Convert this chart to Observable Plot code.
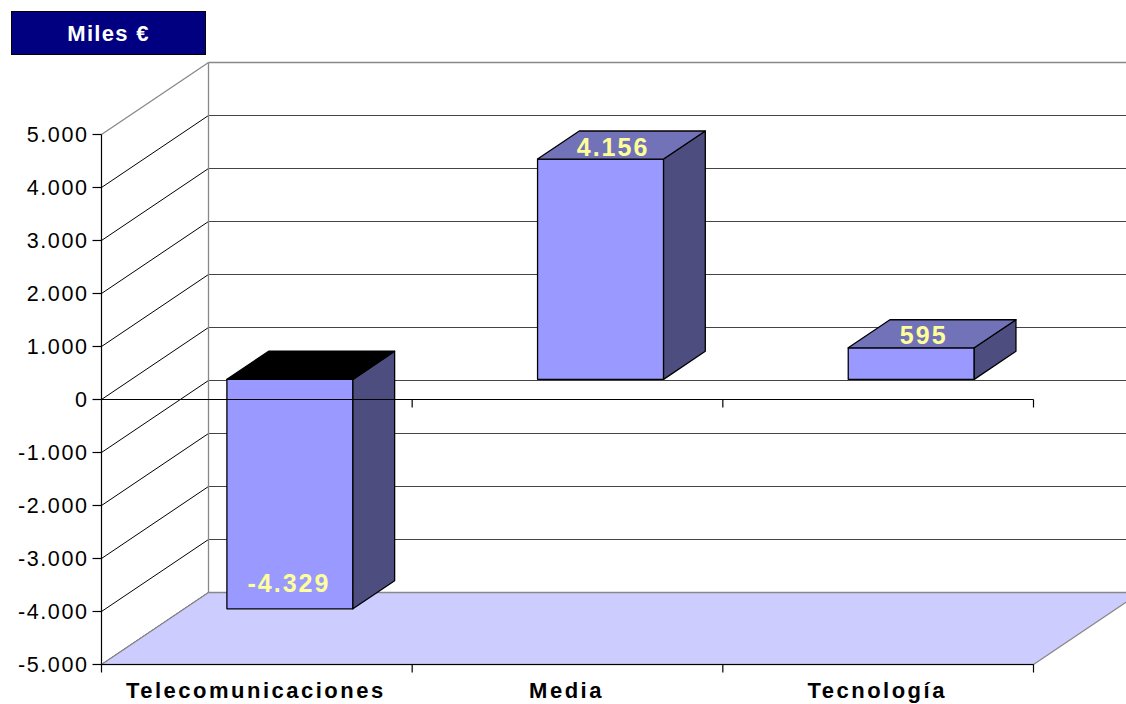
<!DOCTYPE html>
<html><head><meta charset="utf-8">
<script src="https://cdn.jsdelivr.net/npm/d3@7"></script>
<script src="https://cdn.jsdelivr.net/npm/@observablehq/plot@0.6"></script>
<style>
html,body{margin:0;padding:0;background:#fff;}
#wrap{position:relative;width:1126px;height:704px;overflow:hidden;}
#unit{position:absolute;left:11px;top:11px;width:193px;height:40px;padding-top:2px;box-sizing:content-box;background:#000080;border:1px solid #000;color:#fff;font:bold 22px "Liberation Sans",Arial,sans-serif;letter-spacing:1.3px;display:flex;align-items:center;justify-content:center;z-index:2;}
svg g[font-size="21.5"] text{letter-spacing:1.6px;}
svg g[font-size="22"] text{letter-spacing:2.5px;}
svg g[font-size="25"] text{letter-spacing:2px;}
</style>
</head><body>
<div id="wrap"><div id="unit"></div></div>
<script>
// ---- data ----
const categories = ["Telecomunicaciones", "Media", "Tecnología"];
const values = [-4329, 4156, 595];
const yTicks = [5000, 4000, 3000, 2000, 1000, 0, -1000, -2000, -3000, -4000, -5000];
const unitLabel = "Miles €";

// ---- layout ----
const W = 1126, H = 704, mL = 101, mR = 93, mT = 134, mB = 40;
const yMin = -5000, yMax = 5000, nCat = categories.length;
const pxPerX = (W - mL - mR) / nCat;
const pxPerY = (H - mT - mB) / (yMax - yMin);
const DX = 107 / pxPerX, DY = 72 / pxPerY;          // depth vector of the 3D box
const P = (x, y, f) => ({x: x + f * DX, y: y + f * DY});
const px2x = p => p / pxPerX, px2y = p => p / pxPerY;

const fmt = d3.formatLocale({decimal: ",", thousands: ".", grouping: [3], currency: ["", "€"], minus: "-"}).format(",");

const poly = (pts, fill, stroke, sw = 1) =>
  Plot.line(pts, {x: "x", y: "y", fill, stroke, strokeWidth: sw, curve: "linear-closed"});

const F1 = 0.28, F2 = 0.67, BC = 0.51, BHW = px2x(63);
const colFront = "#9999FF", colSide = "#4D4D80", colTopPos = "#7272B8", colTopNeg = "#000000";
const FONT = "Liberation Sans, Arial, sans-serif";

const bars = values.map((v, i) => {
  const x0 = i + BC - BHW, x1 = i + BC + BHW, lo = Math.min(0, v), hi = Math.max(0, v);
  return {
    v, i,
    front: [P(x0, lo, F1), P(x1, lo, F1), P(x1, hi, F1), P(x0, hi, F1)],
    side: [P(x1, lo, F1), P(x1, lo, F2), P(x1, hi, F2), P(x1, hi, F1)],
    top: [P(x0, hi, F1), P(x1, hi, F1), P(x1, hi, F2), P(x0, hi, F2)],
    topColor: v < 0 ? colTopNeg : colTopPos
  };
});

const innerTicks = yTicks.filter(t => t !== yMax);
const marks = [];
// back wall horizontal gridlines
marks.push(Plot.link(innerTicks, {x1: DX, y1: d => d + DY, x2: nCat + DX, y2: d => d + DY, stroke: "#444", strokeWidth: 1}));
marks.push(Plot.link([yMax], {x1: DX, y1: d => d + DY, x2: nCat + DX, y2: d => d + DY, stroke: "#888", strokeWidth: 1.3}));
// side wall diagonals
marks.push(Plot.link(innerTicks, {x1: 0, y1: d => d, x2: DX, y2: d => d + DY, stroke: "#000", strokeWidth: 1}));
marks.push(Plot.link([yMax], {x1: 0, y1: d => d, x2: DX, y2: d => d + DY, stroke: "#888", strokeWidth: 1.3}));
// back wall left edge
marks.push(Plot.link([0], {x1: DX, y1: yMin + DY, x2: DX, y2: yMax + DY, stroke: "#888", strokeWidth: 1.3}));
// floor
marks.push(poly([P(0, yMin, 0), P(nCat, yMin, 0), P(nCat, yMin, 1), P(0, yMin, 1)], "#CCCCFF", "#888", 1.3));
// front bottom edge and its ticks
marks.push(Plot.link([0], {x1: 0, y1: yMin, x2: nCat, y2: yMin, stroke: "#000", strokeWidth: 1.2}));
marks.push(Plot.link(d3.range(nCat + 1), {x1: d => d, x2: d => d, y1: yMin, y2: yMin - px2y(8), stroke: "#000", strokeWidth: 1.2}));
// y axis line and ticks
marks.push(Plot.link([0], {x1: 0, y1: yMin, x2: 0, y2: yMax, stroke: "#000", strokeWidth: 1.2}));
marks.push(Plot.link(yTicks, {x1: -px2x(9), x2: 0, y1: d => d, y2: d => d, stroke: "#000", strokeWidth: 1.2}));
marks.push(Plot.text(yTicks, {x: 0, y: d => d, text: d => fmt(d), textAnchor: "end", dx: -13, dy: 1, fontSize: 21.5, fill: "#000", fontFamily: FONT}));
// bars
for (const b of bars) {
  marks.push(poly(b.front, colFront, "#000", 1.3));
  marks.push(poly(b.side, colSide, "#000", 1.3));
  marks.push(poly(b.top, b.topColor, "#000", 1.3));
}
// front zero axis with ticks
marks.push(Plot.link([0], {x1: 0, y1: 0, x2: nCat, y2: 0, stroke: "#000", strokeWidth: 1.2}));
marks.push(Plot.link(d3.range(1, nCat + 1), {x1: d => d, x2: d => d, y1: 0, y2: -px2y(8), stroke: "#000", strokeWidth: 1.2}));
// value labels
const LF = F1 + 0.126;
marks.push(Plot.text(bars.filter(b => b.v >= 0), {
  x: b => b.i + BC + LF * DX, y: b => b.v + LF * DY, text: b => fmt(b.v),
  dy: -2.5, dx: -1, fontSize: 25, fontWeight: "bold", fill: "#FFFF99", fontFamily: FONT}));
marks.push(Plot.text(bars.filter(b => b.v < 0), {
  x: b => b.i + BC + F1 * DX, y: b => b.v + F1 * DY, text: b => fmt(b.v),
  dy: -25, dx: -1, fontSize: 25, fontWeight: "bold", fill: "#FFFF99", fontFamily: FONT}));
// category labels
marks.push(Plot.text(categories, {x: (d, i) => i + 0.5, y: yMin, text: d => d, dy: 26, dx: -1, fontSize: 22, fontWeight: "bold", fill: "#000", fontFamily: FONT}));

const chart = Plot.plot({
  width: W, height: H,
  marginLeft: mL, marginRight: mR, marginTop: mT, marginBottom: mB,
  x: {domain: [0, nCat], axis: null},
  y: {domain: [yMin, yMax], axis: null},
  style: {background: "transparent", overflow: "visible", fontFamily: FONT},
  marks
});
document.getElementById("unit").textContent = unitLabel;
document.getElementById("wrap").appendChild(chart);
</script>
</body></html>
